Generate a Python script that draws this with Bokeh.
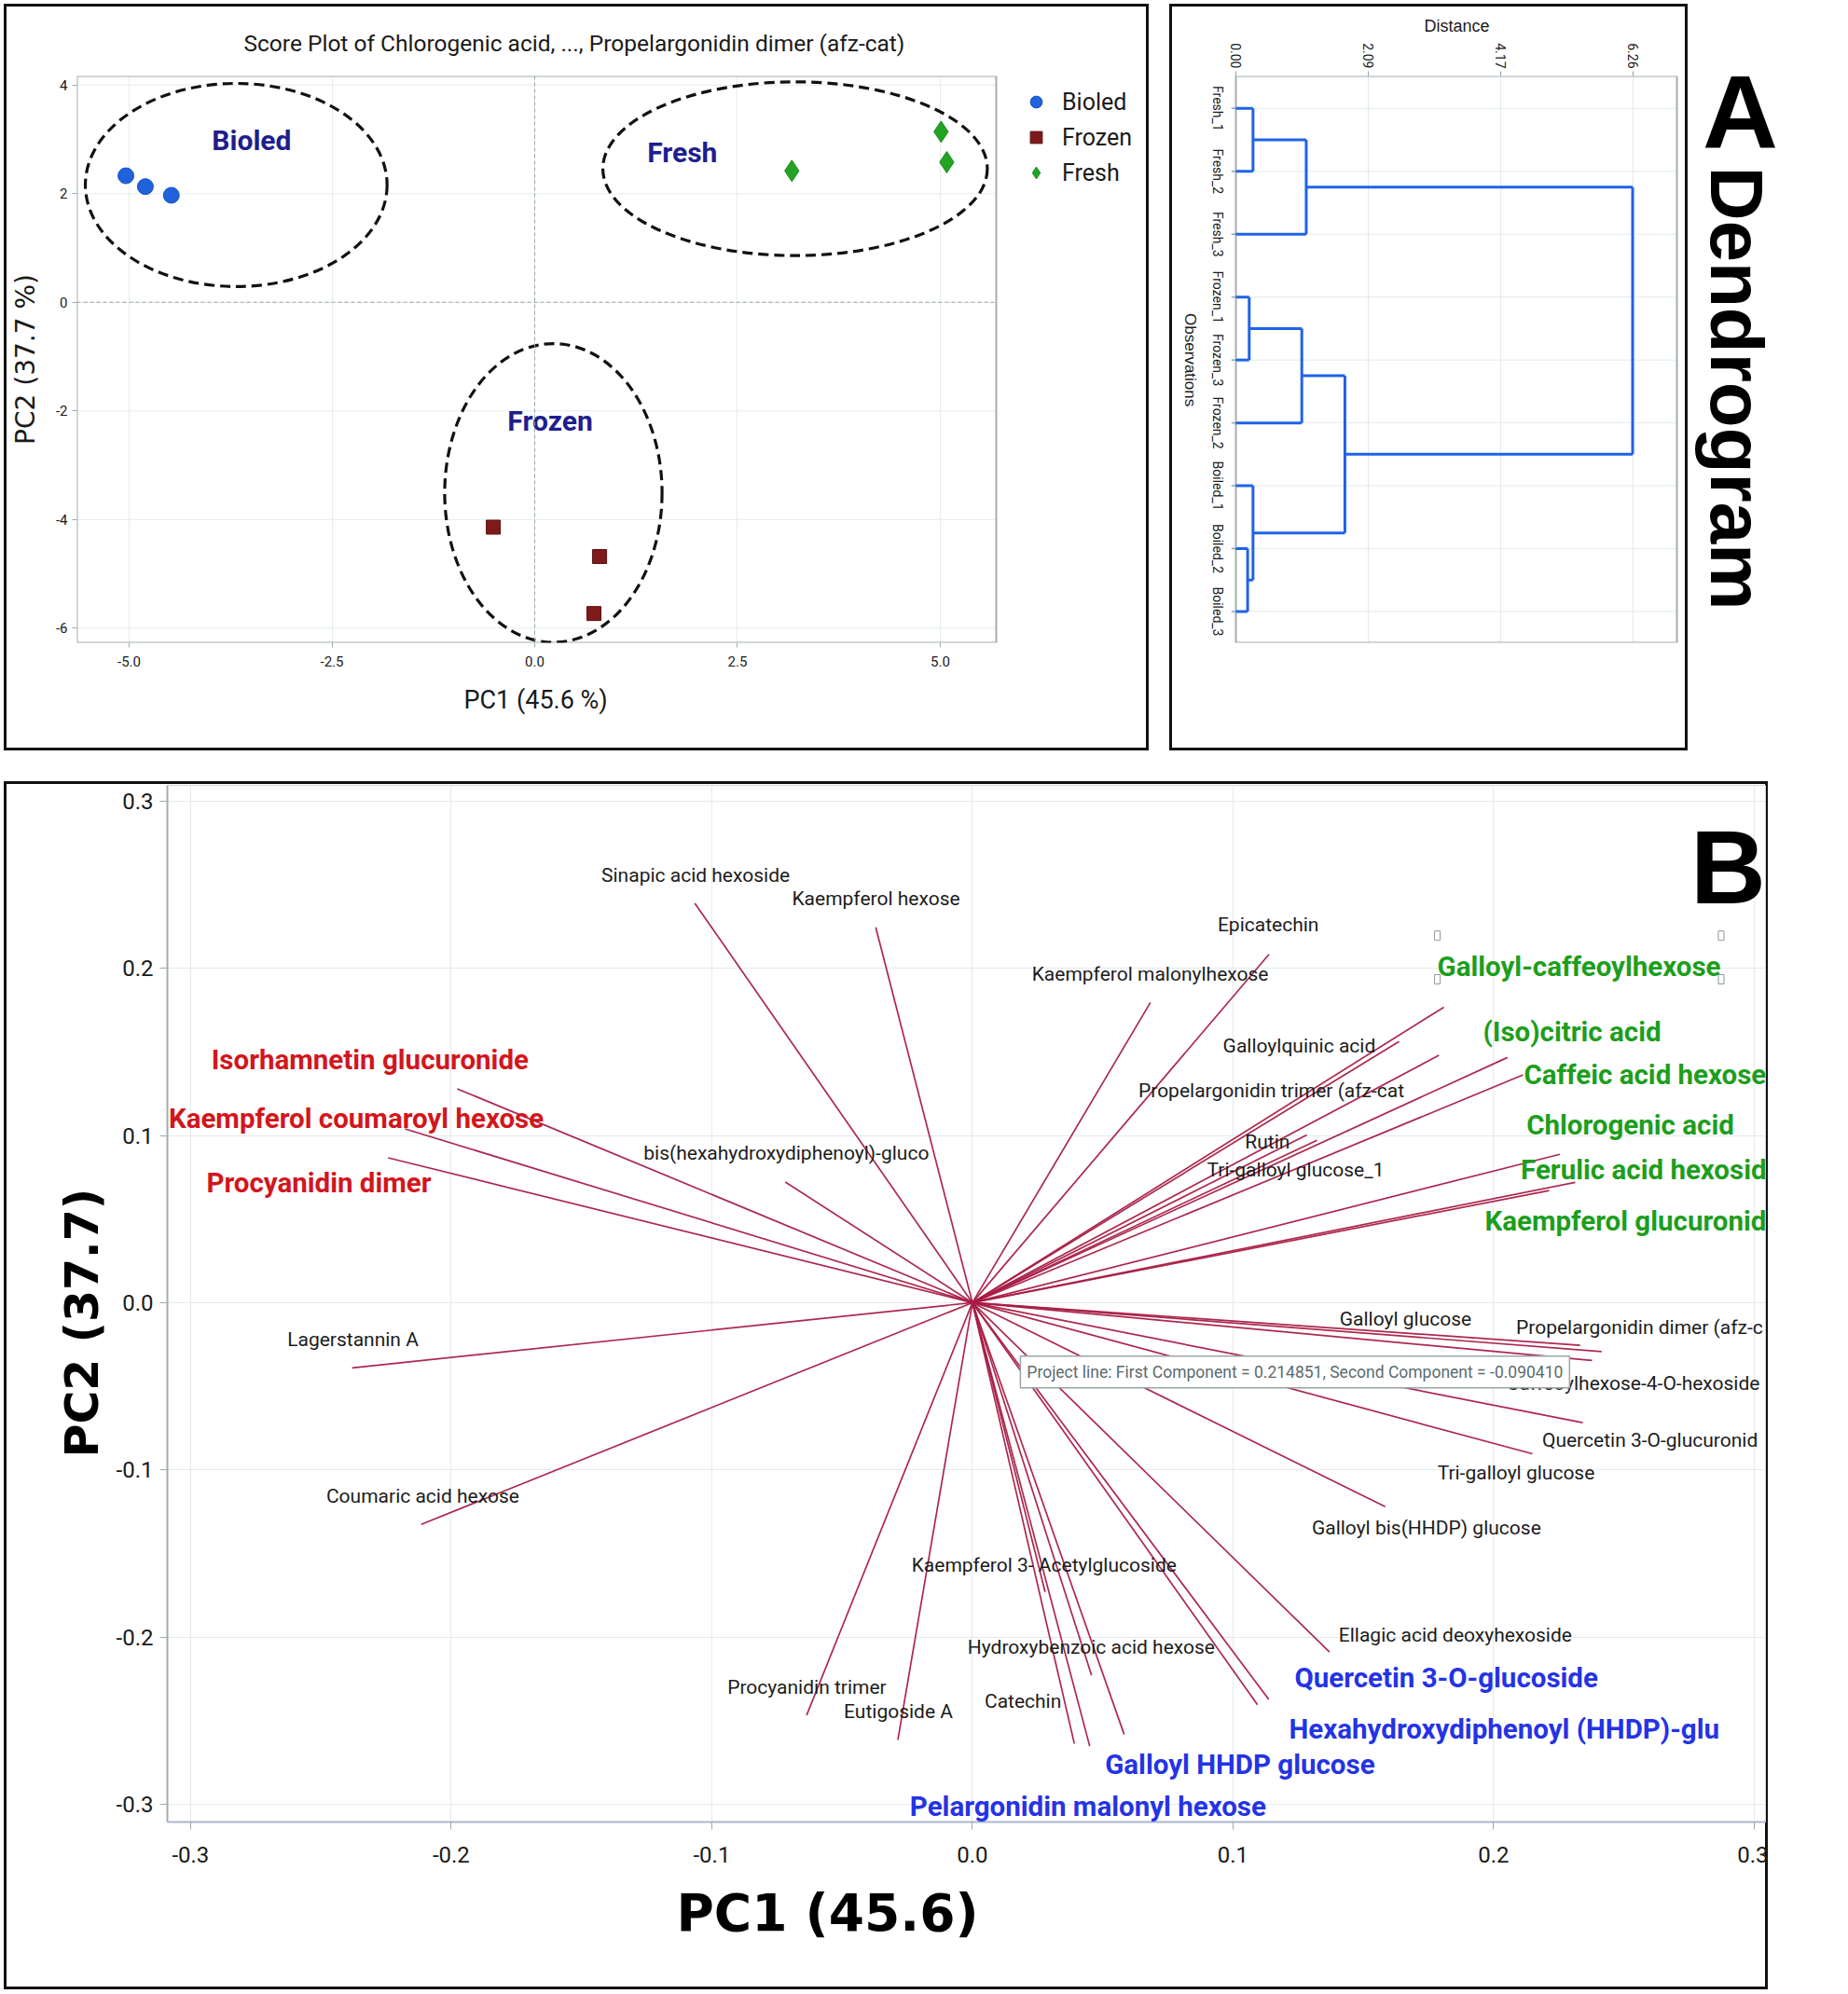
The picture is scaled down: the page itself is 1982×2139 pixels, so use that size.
import math
from bokeh.plotting import figure
from bokeh.models import (Range1d, FixedTicker, NumeralTickFormatter, Span, Label, LabelSet,
                          ColumnDataSource, Legend, LegendItem, Spacer, Title)
from bokeh.layouts import row, column
from bokeh.embed import file_html
from bokeh.resources import INLINE
from bokeh.core.properties import value

NARROW = "Roboto"
SANS = "Liberation Sans"
WIDE = "DejaVu Sans"
BORDER = {"box-shadow": "inset 0 0 0 3px #111111"}

# ---------------- Score plot data ----------------
boiled_pc1 = [-5.04, -4.80, -4.48]
boiled_pc2 = [2.33, 2.13, 1.97]
frozen_pc1 = [-0.51, 0.80, 0.73]
frozen_pc2 = [-4.14, -4.68, -5.73]
fresh_pc1 = [3.17, 5.01, 5.08]
fresh_pc2 = [2.42, 3.14, 2.58]

group_names = ["Bioled", "Fresh", "Frozen"]
ellipse_cx = [-3.68, 3.21, 0.23]
ellipse_cy = [2.16, 2.46, -3.51]
ellipse_w = [3.72, 4.74, 2.68]
ellipse_h = [3.74, 3.20, 5.50]
score_xticks = [-5.0, -2.5, 0.0, 2.5, 5.0]
score_yticks = [-6, -4, -2, 0, 2, 4]

# ---------------- Dendrogram data ----------------
leaf_names = ["Fresh_1", "Fresh_2", "Fresh_3", "Frozen_1", "Frozen_3", "Frozen_2",
              "Boiled_1", "Boiled_2", "Boiled_3"]
merge_a = [0, 9, 3, 11, 7, 6, 12, 10]
merge_b = [1, 2, 4, 5, 8, 13, 14, 15]
merge_h = [0.27, 1.11, 0.21, 1.04, 0.185, 0.27, 1.72, 6.26]

# ---------------- Biplot (loadings) data ----------------
var_names = [
    "Sinapic acid hexoside", "Kaempferol hexose", "Isorhamnetin glucuronide",
    "Kaempferol coumaroyl hexose", "Procyanidin dimer", "bis(hexahydroxydiphenoyl)-gluco",
    "Kaempferol malonylhexose", "Epicatechin", "Galloyl-caffeoylhexose", "Galloylquinic acid",
    "Propelargonidin trimer (afz-cat", "(Iso)citric acid", "Caffeic acid hexose",
    "Chlorogenic acid", "Ferulic acid hexosid", "Kaempferol glucuronid", "Rutin",
    "Tri-galloyl glucose_1", "Galloyl glucose", "Propelargonidin dimer (afz-c",
    "Caffeoylhexose-4-O-hexoside", "Quercetin 3-O-glucuronid", "Tri-galloyl glucose",
    "Galloyl bis(HHDP) glucose", "Ellagic acid deoxyhexoside", "Quercetin 3-O-glucoside",
    "Hexahydroxydiphenoyl (HHDP)-glu", "Galloyl HHDP glucose", "Pelargonidin malonyl hexose",
    "Catechin", "Hydroxybenzoic acid hexose", "Kaempferol 3- Acetylglucoside", "Eutigoside A",
    "Procyanidin trimer", "Coumaric acid hexose", "Lagerstannin A"]
load_pc1 = [-0.1065, -0.0371, -0.1977, -0.2177, -0.2242, -0.0718, 0.0683, 0.1138, 0.1809,
            0.1637, 0.1790, 0.2053, 0.2113, 0.2254, 0.2313, 0.2213, 0.1283, 0.1322, 0.2332,
            0.2414, 0.2377, 0.2342, 0.214851, 0.1584, 0.1370, 0.1094, 0.1137, 0.0582, 0.0450,
            0.0391, 0.0457, 0.0279, -0.0286, -0.0636, -0.2115, -0.2380]
load_pc2 = [0.2390, 0.2246, 0.1280, 0.1040, 0.0867, 0.0722, 0.1796, 0.2084, 0.1768, 0.1563,
            0.1480, 0.1467, 0.1363, 0.0888, 0.0720, 0.0671, 0.1004, 0.0972, -0.0255, -0.0292,
            -0.0346, -0.0718, -0.090410, -0.1221, -0.2090, -0.2406, -0.2374, -0.2582, -0.2653,
            -0.2638, -0.2229, -0.1731, -0.2615, -0.2468, -0.1326, -0.0390]
var_group = ["k", "k", "r", "r", "r", "k", "k", "k", "g", "k", "k", "g", "g", "g", "g", "g",
             "k", "k", "k", "kl", "kl", "kl", "k", "k", "k", "b", "b", "b", "b", "k", "k", "k",
             "k", "k", "k", "k"]
bi_ticks = [-0.3, -0.2, -0.1, 0.0, 0.1, 0.2, 0.3]

# label anchor positions (layout, data units)
label_x = [-0.1062, -0.0370, -0.2920, -0.3084, -0.2939, -0.0714, 0.0682, 0.1135, 0.1784, 0.1254,
           0.1147, 0.1959, 0.2116, 0.2126, 0.2104, 0.1966, 0.1132, 0.1240, 0.1662, 0.2086,
           0.2049, 0.2186, 0.2086, 0.1742, 0.1853, 0.1236, 0.1215, 0.0509, -0.0240, 0.0194,
           0.0456, 0.0275, -0.0284, -0.0635, -0.2109, -0.2377]
label_y = [0.2557, 0.2415, 0.1450, 0.1101, 0.0719, 0.0892, 0.1963, 0.2260, 0.2010, 0.1535,
           0.1266, 0.1619, 0.1361, 0.1061, 0.0792, 0.0485, 0.0959, 0.0792, -0.0100, -0.0147,
           -0.0481, -0.0825, -0.1021, -0.1346, -0.1987, -0.2245, -0.2552, -0.2766, -0.3017,
           -0.2387, -0.2062, -0.1569, -0.2448, -0.2301, -0.1159, -0.0220]


def style_axes(p, font, size, tick_out, color="#9fa9ab"):
    p.axis.axis_line_color = None
    p.axis.major_tick_line_color = color
    p.axis.major_tick_out = tick_out
    p.axis.major_tick_in = 0
    p.axis.minor_tick_line_color = None
    p.axis.major_label_text_font = font
    p.axis.major_label_text_font_size = size
    p.axis.major_label_text_color = "#1a1a1a"
    p.axis.axis_label_text_font_style = "normal"
    p.axis.axis_label_text_color = "#1a1a1a"


def transparent(p):
    p.background_fill_alpha = 0
    p.border_fill_alpha = 0


def box_border(w, h, t=3, c="#111111"):
    g = "linear-gradient(%s,%s)" % (c, c)
    return {
        "background-image": ", ".join([g] * 4),
        "background-size": "%dpx %dpx, %dpx %dpx, %dpx %dpx, %dpx %dpx" % (w, t, w, t, t, h, t, h),
        "background-position": "0px 0px, 0px %dpx, 0px 0px, %dpx 0px" % (h - t, w - t),
        "background-repeat": "no-repeat",
    }


# ======================= Score plot =======================
SX0, SX1, SY0, SY1 = -5.644, 5.690, -6.268, 4.167
SX_EXT = 7.541  # frame extended to the right to host the legend
p1 = figure(width=1228, height=801, output_backend="svg", toolbar_location=None,
            title="Score Plot of Chlorogenic acid, ..., Propelargonidin dimer (afz-cat)",
            x_range=Range1d(SX0, SX_EXT), y_range=Range1d(SY0, SY1),
            min_border_left=78, min_border_right=3, min_border_top=76, min_border_bottom=116)
p1.styles = BORDER
transparent(p1)
p1.title.align = "left"
p1.title.offset = 179
p1.title.standoff = 41
p1.title.text_font = NARROW
p1.title.text_font_size = "24.5px"
p1.title.text_font_style = "normal"
p1.title.text_color = "#1a1a1a"
p1.outline_line_color = None
p1.xgrid.grid_line_color = "#e6ecee"
p1.ygrid.visible = False
style_axes(p1, NARROW, "15px", 5)
p1.xaxis.ticker = FixedTicker(ticks=score_xticks)
p1.xaxis.formatter = NumeralTickFormatter(format="0.0")
p1.yaxis.ticker = FixedTicker(ticks=score_yticks)
p1.yaxis.formatter = NumeralTickFormatter(format="0")
p1.xaxis.major_label_standoff = 9
p1.yaxis.major_label_standoff = 5
p1.add_layout(Title(text="PC1 (45.6 %)", align="left", offset=415, standoff=30,
                    text_font=NARROW, text_font_size="27px", text_font_style="normal",
                    text_color="#1a1a1a"), "below")
p1.yaxis.axis_label = "PC2 (37.7 %)"
p1.yaxis.axis_label_text_font = WIDE
p1.yaxis.axis_label_text_font_size = "28px"
p1.yaxis.axis_label_standoff = 13

ny = len(score_yticks)
p1.segment(x0=[SX0] * ny, y0=score_yticks, x1=[SX1] * ny, y1=score_yticks,
           line_color="#e6ecee", line_width=1)
p1.segment(x0=[SX0], y0=[0], x1=[SX1], y1=[0], line_color="#9aa6aa", line_width=1,
           line_dash="4 3")
p1.add_layout(Span(location=0, dimension="height", line_color="#9aa6aa", line_width=1,
                   line_dash="4 3"))
p1.quad(left=[SX0], right=[SX1], bottom=[SY0], top=[SY1], fill_color=None,
        line_color="#a4aeb0", line_width=2)

p1.ellipse(x=ellipse_cx, y=ellipse_cy, width=ellipse_w, height=ellipse_h,
           fill_color=None, line_color="#111111", line_width=3.2, line_dash="11 6")
rb = p1.scatter(boiled_pc1, boiled_pc2, marker="circle", size=17,
                fill_color="#1f62dc", line_color="#1a52c0")
rfz = p1.scatter(frozen_pc1, frozen_pc2, marker="square", size=15,
                 fill_color="#7e1a1a", line_color="#5a1010")
rfr = p1.scatter(fresh_pc1, fresh_pc2, marker="diamond", size=23,
                 fill_color="#23a323", line_color="#1c8a1c")

grp_lab_x = [-3.49, 1.82, 0.19]
grp_lab_y = [2.98, 2.76, -2.19]
p1.text(x=grp_lab_x, y=grp_lab_y, text=group_names, text_font=value(NARROW),
        text_font_style="bold", text_font_size="30px", text_color="#1e1e8e",
        text_align="center", text_baseline="middle")

legend = Legend(items=[LegendItem(label="Bioled", renderers=[rb]),
                       LegendItem(label="Frozen", renderers=[rfz]),
                       LegendItem(label="Fresh", renderers=[rfr])],
                location=(1013, 486), glyph_width=32, glyph_height=36, label_height=36,
                spacing=2, padding=6, margin=0, label_standoff=12,
                label_text_font=NARROW, label_text_font_size="25px",
                label_text_color="#1a1a1a", border_line_color=None, background_fill_alpha=0)
p1.add_layout(legend)

# ======================= Dendrogram (+ caption) =======================
DX_MIN, DX_MAX, DX_EXT = -0.927, 6.959, 9.298
DY_TOP, DY_BOT = 0.483, 9.497
p2 = figure(width=706, height=801, output_backend="svg", toolbar_location=None,
            x_range=Range1d(DX_MIN, DX_EXT), y_range=Range1d(DY_BOT, DY_TOP),
            x_axis_location="above", y_axis_location=None,
            min_border_left=8, min_border_right=3, min_border_top=77, min_border_bottom=22)
p2.styles = box_border(556, 801)
transparent(p2)
p2.outline_line_color = None
p2.xgrid.grid_line_color = "#e3eaee"
p2.ygrid.visible = False
style_axes(p2, NARROW, "14px", 5, color="#8fa0b0")
dmax = max(merge_h)
p2.xaxis.ticker = FixedTicker(ticks=[dmax * k / 3 for k in range(4)])
p2.xaxis.formatter = NumeralTickFormatter(format="0.00")
p2.xaxis.major_label_orientation = -math.pi / 2
p2.xaxis.major_label_standoff = 3
p2.add_layout(Title(text="Distance", align="left", offset=265, standoff=11, text_font=SANS,
                    text_font_size="18px", text_font_style="normal", text_color="#1a1a1a"),
              "above")

leaf_pos = list(range(1, len(leaf_names) + 1))
n_leaf = len(leaf_names)
p2.segment(x0=[0.0] * n_leaf, y0=leaf_pos, x1=[DX_MAX] * n_leaf, y1=leaf_pos,
           line_color="#e3eaee", line_width=1)
p2.quad(left=[0.0], right=[DX_MAX], top=[DY_TOP], bottom=[DY_BOT], fill_color=None,
        line_color="#a4aeb0", line_width=2)
p2.segment(x0=[-0.07] * n_leaf, y0=leaf_pos, x1=[0.0] * n_leaf, y1=leaf_pos,
           line_color="#8fa0b0", line_width=1.5)

pos = {i: float(i + 1) for i in range(n_leaf)}
hgt = {i: 0.0 for i in range(n_leaf)}
sx0, sy0, sx1, sy1 = [], [], [], []
for k, (a, b, h) in enumerate(zip(merge_a, merge_b, merge_h)):
    for c in (a, b):
        sx0.append(hgt[c]); sy0.append(pos[c]); sx1.append(h); sy1.append(pos[c])
    sx0.append(h); sy0.append(pos[a]); sx1.append(h); sy1.append(pos[b])
    nid = n_leaf + k
    pos[nid] = (pos[a] + pos[b]) / 2
    hgt[nid] = h
p2.segment(x0=sx0, y0=sy0, x1=sx1, y1=sy1, line_color="#1f63e6", line_width=3)
leaf_src = ColumnDataSource(dict(x=[-0.28] * n_leaf, y=leaf_pos, t=leaf_names))
p2.add_layout(LabelSet(x="x", y="y", text="t", source=leaf_src, angle=-math.pi / 2,
                       text_font=value(NARROW), text_font_size="14px", text_color="#1a1a1a",
                       text_align="center", text_baseline="middle"))
p2.add_layout(Label(x=-0.72, y=5.0, text="Observations", angle=-math.pi / 2,
                    text_align="center", text_baseline="middle", text_font=SANS,
                    text_font_size="17px", text_color="#1a1a1a"))
# panel caption outside the bordered box
p2.add_layout(Label(x=7.96, y=1.054, text="A", text_font=SANS, text_font_style="bold",
                    text_font_size="112px", text_baseline="middle", text_align="center",
                    text_color="#000000"))
p2.add_layout(Label(x=7.90, y=5.45, text="Dendrogram", angle=-math.pi / 2, text_font=SANS,
                    text_font_style="bold", text_font_size="80px", text_baseline="middle",
                    text_align="center", text_color="#000000"))

# ======================= Biplot =======================
pB = figure(width=1892, height=1296, output_backend="svg", toolbar_location=None,
            x_range=Range1d(-0.3089, 0.3043), y_range=Range1d(-0.3107, 0.3095),
            min_border_left=175, min_border_right=3, min_border_top=4, min_border_bottom=180)
pB.styles = BORDER
transparent(pB)
pB.outline_line_color = "#d3dadc"
pB.grid.grid_line_color = "#e4eaec"
style_axes(pB, NARROW, "24px", 8)
pB.xaxis.axis_line_color = "#a9b6ca"
pB.xaxis.axis_line_width = 2
pB.yaxis.axis_line_color = "#a3adae"
pB.yaxis.axis_line_width = 2
pB.xaxis.ticker = FixedTicker(ticks=bi_ticks)
pB.yaxis.ticker = FixedTicker(ticks=bi_ticks)
pB.xaxis.formatter = NumeralTickFormatter(format="0.0")
pB.yaxis.formatter = NumeralTickFormatter(format="0.0")
pB.xaxis.major_label_standoff = 18
pB.yaxis.major_label_standoff = 7
pB.add_layout(Title(text="PC1 (45.6)", align="left", offset=546, standoff=34, text_font=WIDE,
                    text_font_size="55px", text_font_style="bold", text_color="#000000"),
              "below")
pB.add_layout(Title(text="PC2 (37.7)", align="left", offset=391, standoff=10, text_font=WIDE,
                    text_font_size="49px", text_font_style="bold", text_color="#000000"),
              "left")

src = ColumnDataSource(dict(x0=[0.0] * len(load_pc1), y0=[0.0] * len(load_pc1),
                            x1=load_pc1, y1=load_pc2))
pB.segment(x0="x0", y0="y0", x1="x1", y1="y1", source=src, line_color="#a81c44",
           line_width=1.7, line_alpha=0.95)

styles = {
    "k": dict(color="#1c1c1c", size="21px", bold=False, align="center"),
    "kl": dict(color="#1c1c1c", size="21px", bold=False, align="left"),
    "r": dict(color="#d2161c", size="29.5px", bold=True, align="left"),
    "g": dict(color="#1d9e1d", size="29.5px", bold=True, align="left"),
    "b": dict(color="#2433e6", size="29.5px", bold=True, align="left"),
}
for key, st in styles.items():
    idx = [i for i, g in enumerate(var_group) if g == key]
    s = ColumnDataSource(dict(x=[label_x[i] for i in idx], y=[label_y[i] for i in idx],
                              t=[var_names[i] for i in idx]))
    pB.add_layout(LabelSet(x="x", y="y", text="t", source=s, text_font=value(NARROW),
                           text_font_size=st["size"], text_color=st["color"],
                           text_font_style="bold" if st["bold"] else "normal",
                           text_align=st["align"], text_baseline="middle"))

# selection handles around the dragged "Galloyl-caffeoylhexose" label
gi = var_names.index("Galloyl-caffeoylhexose")
hx = [label_x[gi] + d for d in (0.0, 0.1089, 0.0, 0.1089)]
hy = [label_y[gi] + d for d in (0.0186, 0.0186, -0.0075, -0.0075)]
pB.rect(x=hx, y=hy, width=6, height=10, width_units="screen", height_units="screen",
        fill_color="white", line_color="#8d999c", line_width=1)

ti = var_names.index("Tri-galloyl glucose")
pB.add_layout(Label(x=0.0184, y=-0.0414,
                    text="Project line: First Component = %.6f, Second Component = %.6f" % (load_pc1[ti], load_pc2[ti]),
                    text_font=NARROW, text_font_size="17.5px", text_color="#5b6b6e",
                    text_baseline="middle", background_fill_color="white",
                    border_line_color="#9aa5a8", border_line_width=1.5, padding=7))

pB.add_layout(Label(x=0.2900, y=0.2602, text="B", text_font=SANS, text_font_style="bold",
                    text_font_size="112px", text_baseline="middle", text_align="center",
                    text_color="#000000"))

top = row(p1, Spacer(width=22, height=801), p2)
layout = column(top, pB, spacing=33)
layout.styles = {"margin": "4px 0 0 4px"}

open("out.html", "w").write(file_html(layout, INLINE))
